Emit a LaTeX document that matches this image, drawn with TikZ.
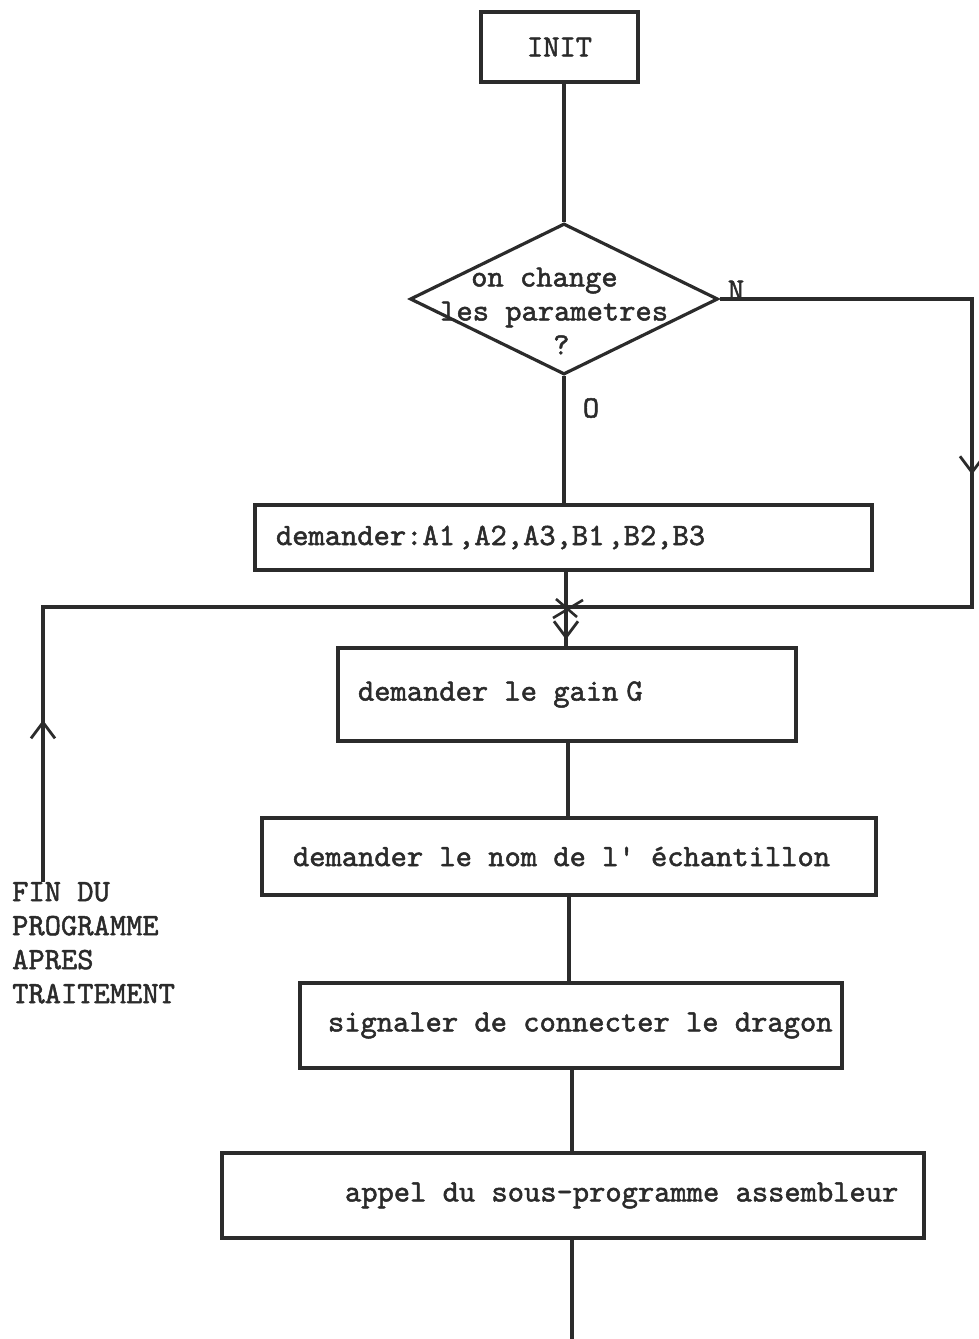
\documentclass[tikz,border=0pt]{standalone}
\usepackage{fontspec}
\newfontfamily\tw{lmmono10-regular.otf}[FakeBold=1.6]
\usetikzlibrary{shapes.geometric,arrows.meta,decorations.markings}
\definecolor{ink}{HTML}{2B2B2B}
% fixed-pitch typewriter face
\newcommand\typewriter{\tw\fontsize{31}{34}\selectfont}
\begin{document}
\begin{tikzpicture}[x=1pt,y=-1pt,
  every node/.style={text=ink, font=\typewriter},
  line/.style={draw=ink, line width=3.2pt},
  box/.style={line, rectangle, inner ysep=0pt, inner xsep=0pt, align=flush left},
  tipat/.style={postaction={decorate}, decoration={markings,
      mark=at position #1 with {\arrow[ink]{Straight Barb[length=16pt,width=24pt,line width=2.8pt]}}}}
]
\useasboundingbox (0,0) rectangle (979,1339);

% boxes of the flow
\node[line, rectangle, minimum width=157pt, minimum height=70pt] (init) at (559.5,47) {INIT};
\node[line, diamond, minimum width=308pt, minimum height=151pt, inner sep=0pt] (q) at (564,299) {};
\node[align=flush left, inner sep=0pt, anchor=west] (qtext) at (440,311)
  {\hspace*{31pt}on change\\les parametres\\\hspace*{113pt}?};
\node[box, minimum width=617pt, minimum height=65pt, text width=617pt] (params) at (563.5,537.5)
  {\hspace*{21pt}demander:A1\hspace{3pt},A2,A3,B1\hspace{3pt},B2,B3};
\node[box, minimum width=458pt, minimum height=93pt, text width=458pt] (gain) at (567,694.5)
  {\hspace*{20pt}\raisebox{-7pt}{demander le gain\hspace{8pt}G}};
\node[box, minimum width=614pt, minimum height=77pt, text width=614pt] (nom) at (569,856.5)
  {\hspace*{31pt}\raisebox{-8pt}{demander le nom de l' échantillon}};
\node[box, minimum width=542pt, minimum height=85pt, text width=542pt] (dragon) at (571,1025.5)
  {\hspace*{28pt}\raisebox{-5pt}{signaler de connecter le dragon}};
\node[box, minimum width=702pt, minimum height=85pt, text width=702pt] (appel) at (573,1195.5)
  {\hspace*{123pt}appel du sous-programme assembleur};
\node[anchor=north west, inner sep=0pt, align=flush left] (fin) at (12,882) {FIN DU\\PROGRAMME\\APRES\\TRAITEMENT};

% branch labels
\node[inner sep=0pt] (lblN) at (736,290) {N};
\node[inner sep=0pt] (lblO) at (591,408) {O};

% junction and loose ends
\coordinate (j) at (566,607);
\coordinate (finTop) at (43,882);
\coordinate (outEnd) at (572,1339);

% main spine
\draw[line] (init.south -| q.north) -- (q.north);
\draw[line] (q.south) -- (q.south |- params.north);
\draw[line, tipat=68pt] (params.south -| j) -- (j) -- (j |- gain.north);
\draw[line] (gain.south -| 568,0) -- (nom.north -| 568,0);
\draw[line] (nom.south -| 569,0) -- (dragon.north -| 569,0);
\draw[line] (dragon.south -| 572,0) -- (appel.north -| 572,0);
\draw[line] (appel.south -| outEnd) -- (outEnd);

% "N" branch back to the junction
\draw[line, tipat=428pt] (q.east) -- (972,299) -- (972,607) -- (j);
% loop back after processing
\draw[line, tipat=162pt] (finTop) -- (43,607) -- (j);

% crossing mark at the junction
\draw[line, line width=2.6pt] ([shift={(-10,-8)}]j) -- ([shift={(11,10)}]j);
\draw[line, line width=2.6pt] ([shift={(17,-7)}]j) -- ([shift={(-13,11)}]j);
\end{tikzpicture}
\end{document}
